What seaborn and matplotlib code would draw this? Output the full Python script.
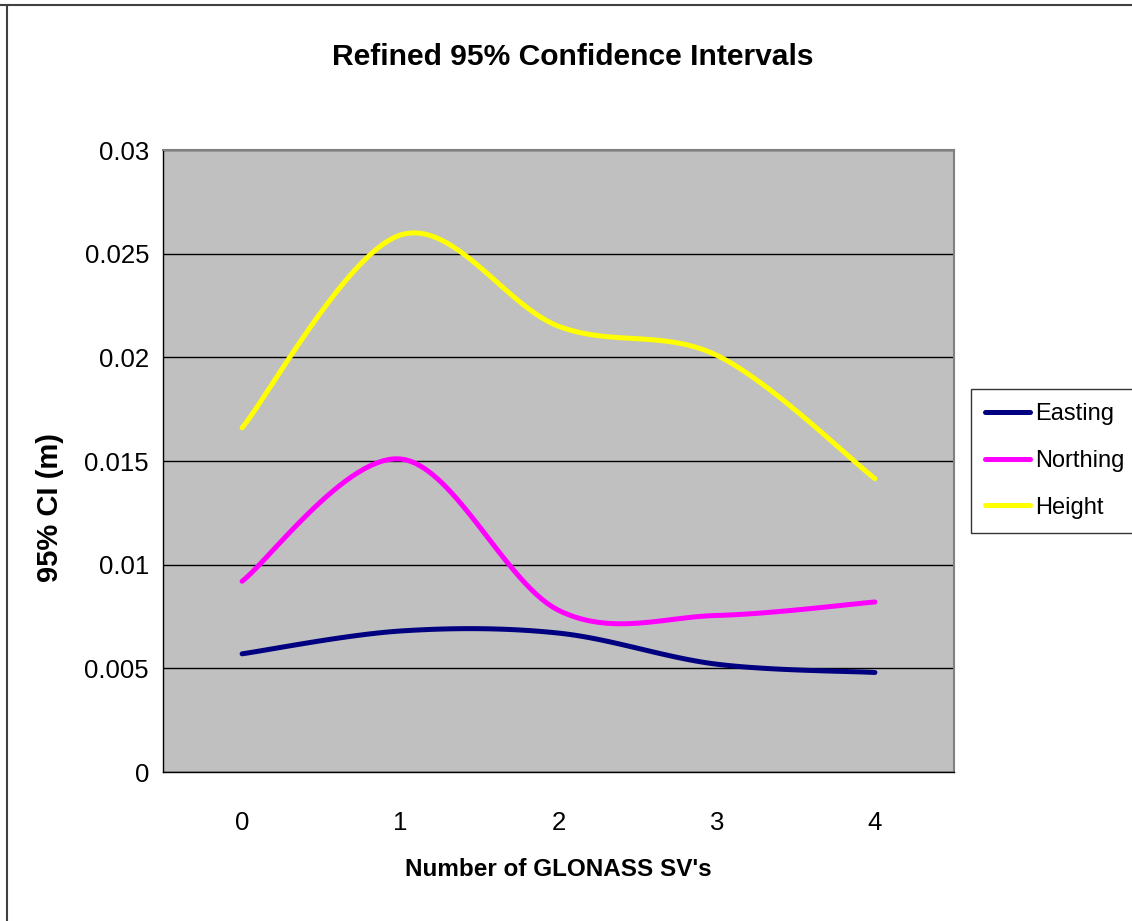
import numpy as np
import pandas as pd
import matplotlib
matplotlib.use("Agg")
import matplotlib.pyplot as plt
from matplotlib.lines import Line2D
import seaborn as sns

# ---- data ----
categories = [0, 1, 2, 3, 4]
easting = [0.0057, 0.0068, 0.0067, 0.0052, 0.0048]
northing = [0.0092, 0.0151, 0.0078, 0.00755, 0.0082]
height = [0.0166, 0.0259, 0.0215, 0.0201, 0.01415]
series_names = ["Easting", "Northing", "Height"]
series_colors = ["#000080", "#FF00FF", "#FFFF00"]
y_ticks = [0, 0.005, 0.01, 0.015, 0.02, 0.025, 0.03]
y_tick_labels = ["0", "0.005", "0.01", "0.015", "0.02", "0.025", "0.03"]
title = "Refined 95% Confidence Intervals"
x_label = "Number of GLONASS SV's"
y_label = "95% CI (m)"


def smooth(xs, ys, n=30):
    """Excel-style smoothed line (Catmull-Rom Bezier, endpoints repeated)."""
    P = np.column_stack([xs, ys]).astype(float)
    P = np.vstack([P[0], P, P[-1]])
    out = []
    t = np.linspace(0, 1, n)
    for i in range(1, len(P) - 2):
        p0, p1, p2, p3 = P[i - 1], P[i], P[i + 1], P[i + 2]
        c1 = p1 + (p2 - p0) / 6.0
        c2 = p2 - (p3 - p1) / 6.0
        tt = t[:, None]
        seg = ((1 - tt) ** 3) * p1 + 3 * ((1 - tt) ** 2) * tt * c1 + 3 * (1 - tt) * tt ** 2 * c2 + tt ** 3 * p2
        if i > 1:
            seg = seg[1:]
        out.append(seg)
    return np.vstack(out)


frames = []
for name, vals in zip(series_names, [easting, northing, height]):
    c = smooth(categories, vals)
    frames.append(pd.DataFrame({"x": c[:, 0], "y": c[:, 1], "series": name}))
df = pd.concat(frames, ignore_index=True)

sns.set_style("white")
plt.rcParams["font.family"] = ["Liberation Sans", "DejaVu Sans"]
for k in ["text.color", "axes.labelcolor", "xtick.color", "ytick.color"]:
    plt.rcParams[k] = "black"

W, H = 1132, 921
fig = plt.figure(figsize=(W / 100, H / 100), dpi=100)
ax = fig.add_axes([163 / W, 1 - 772 / H, (954 - 163) / W, (772 - 150) / H])
ax.set_facecolor("#C0C0C0")

sns.lineplot(data=df, x="x", y="y", hue="series", palette=series_colors,
             hue_order=series_names, sort=False, estimator=None, units="series",
             lw=3.6, ax=ax, legend=False)
for l in ax.get_lines():
    l.set_solid_capstyle("round")

ax.set_xlim(-0.5, 4.5)
ax.set_ylim(0, 0.03)
ax.set_yticks(y_ticks)
ax.set_yticklabels(y_tick_labels)
ax.yaxis.grid(True, color="black", lw=1.0)
ax.set_axisbelow(True)

ax.set_xticks(categories)
ax.set_xticklabels([str(c) for c in categories])
ax.set_xticks(np.arange(-0.5, 4.51, 1.0), minor=True)
ax.tick_params(axis="x", which="major", length=0, pad=28, labelsize=18.5)
ax.tick_params(axis="x", which="minor", length=8, width=1, color="black", direction="out")
ax.tick_params(axis="y", which="major", length=6, width=1, color="black", direction="out",
               labelsize=18.5, pad=4)
ax.tick_params(axis="y", which="minor", length=0)

for s in ax.spines.values():
    s.set_color("#808080")
    s.set_linewidth(1.5)
ax.spines["left"].set_color("black")
ax.spines["left"].set_linewidth(1.0)
ax.spines["bottom"].set_color("black")
ax.spines["bottom"].set_linewidth(1.0)

ax.set_xlabel(x_label, fontsize=17.5, fontweight="bold")
ax.xaxis.set_label_coords(0.5, -(869 - 772) / 622, transform=ax.transAxes)
ax.xaxis.label.set_va("center")
ax.set_ylabel(y_label, fontsize=21, fontweight="bold")
ax.yaxis.set_label_coords(-(163 - 50) / 791, (772 - 507) / 622, transform=ax.transAxes)
ax.yaxis.label.set_va("center")
fig.text(573 / W, 1 - 57 / H, title, ha="center", va="center", fontsize=21.6, fontweight="bold")

handles = [Line2D([0], [0], color=c, lw=3.6, solid_capstyle="round") for c in series_colors]
leg = fig.legend(handles, series_names, loc="upper left",
                 bbox_to_anchor=(971 / W, 1 - 389 / H), frameon=True, fancybox=False,
                 fontsize=17.0, handlelength=1.9, handletextpad=0.2, labelspacing=1.05,
                 borderpad=0.6, borderaxespad=0)
leg.get_frame().set_edgecolor("black")
leg.get_frame().set_linewidth(1.0)

# outer chart-area border (top and left visible)
fig.add_artist(Line2D([0, 1], [1 - 5 / H, 1 - 5 / H], transform=fig.transFigure,
                      color="#404040", lw=1.5))
fig.add_artist(Line2D([7 / W, 7 / W], [0, 1 - 5 / H], transform=fig.transFigure,
                      color="#404040", lw=1.5))

fig.savefig("out.png", dpi=100)
